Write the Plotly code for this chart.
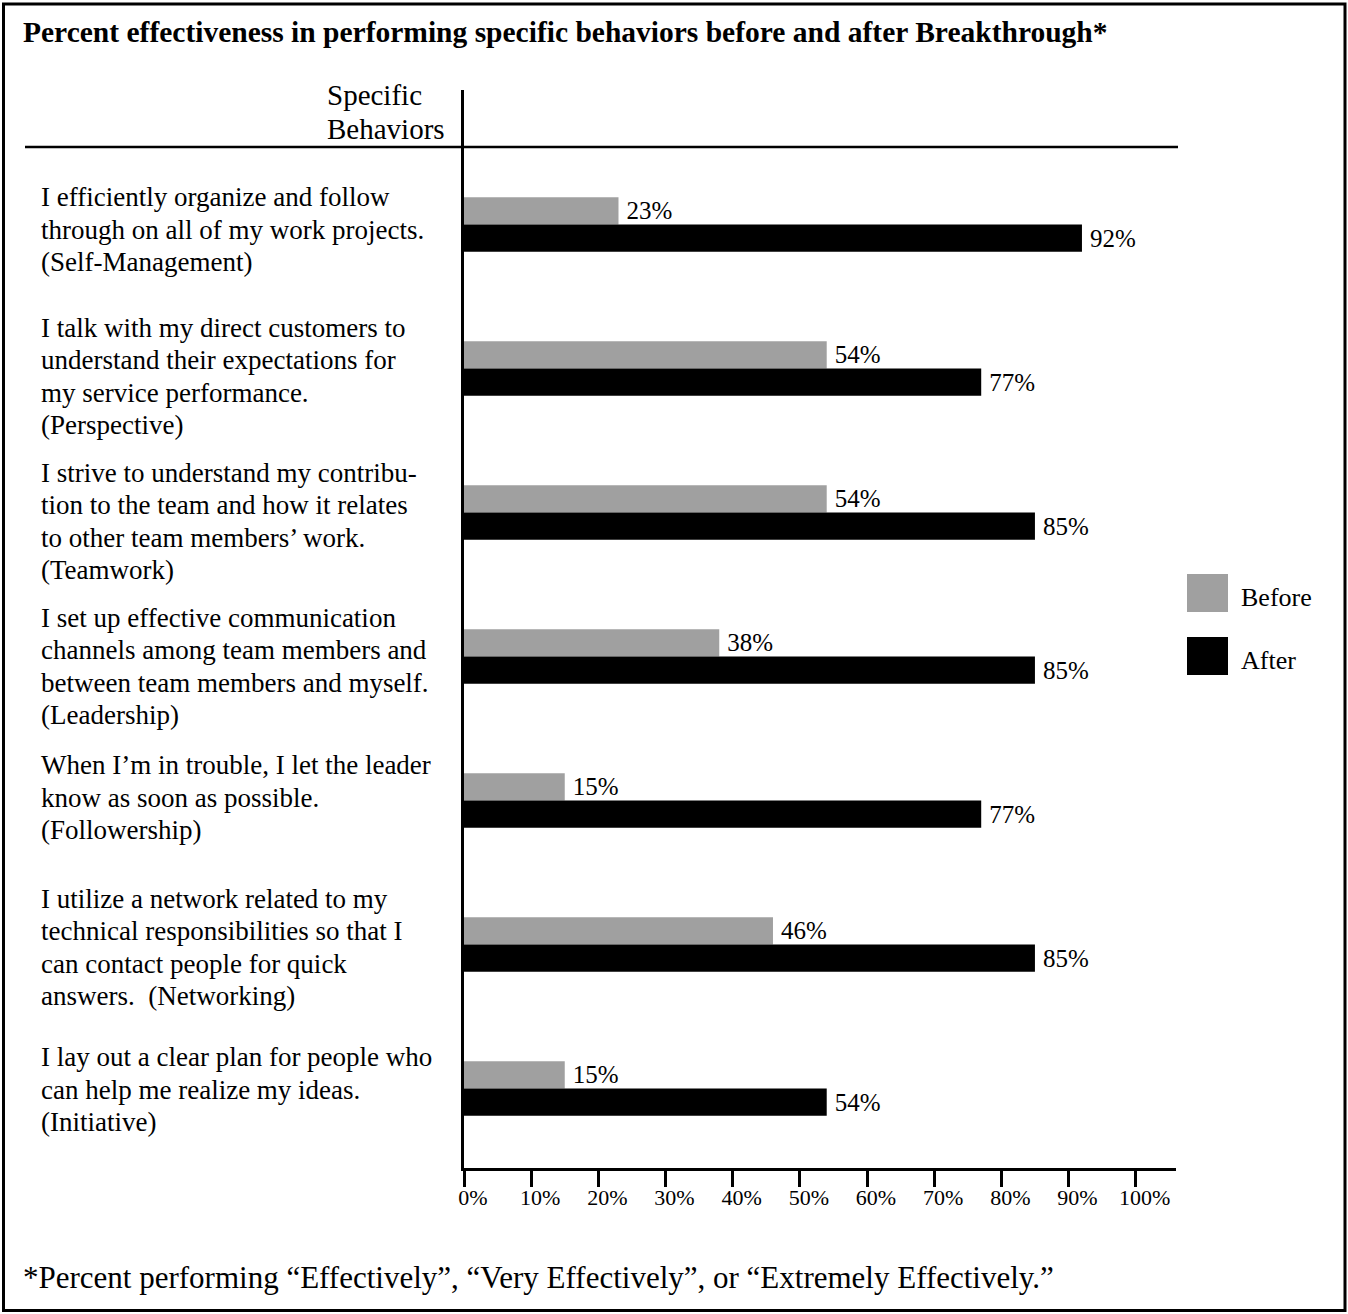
import plotly.graph_objects as go

# ---------------- data ----------------
categories = ["Self-Management", "Perspective", "Teamwork", "Leadership",
              "Followership", "Networking", "Initiative"]
label_lines = [
    ["I efficiently organize and follow", "through on all of my work projects.", "(Self-Management)"],
    ["I talk with my direct customers to", "understand their expectations for",
     "my service performance.", "(Perspective)"],
    ["I strive to understand my contribu-", "tion to the team and how it relates",
     "to other team members\u2019 work.", "(Teamwork)"],
    ["I set up effective communication", "channels among team members and",
     "between team members and myself.", "(Leadership)"],
    ["When I\u2019m in trouble, I let the leader", "know as soon as possible.", "(Followership)"],
    ["I utilize a network related to my", "technical responsibilities so that I",
     "can contact people for quick", "answers.\u00a0 (Networking)"],
    ["I lay out a clear plan for people who", "can help me realize my ideas.", "(Initiative)"],
]
before = [23, 54, 54, 38, 15, 46, 15]
after = [92, 77, 85, 85, 77, 85, 54]
tick_vals = [0, 10, 20, 30, 40, 50, 60, 70, 80, 90, 100]
tick_text = ["0%", "10%", "20%", "30%", "40%", "50%", "60%", "70%", "80%", "90%", "100%"]
series_names = ["Before", "After"]
title_text = "Percent effectiveness in performing specific behaviors before and after Breakthrough*"
footnote_text = ("*Percent performing \u201cEffectively\u201d, \u201cVery Effectively\u201d, "
                 "or \u201cExtremely Effectively.\u201d")
header_lines = ["Specific", "Behaviors"]

# ---------------- layout helpers ----------------
W, H = 1348, 1314
L, R, T, B = 464, 1176, 90, 1168
FONT = "Liberation Serif, Times New Roman, serif"
GRAY = "#a0a0a0"
UNIT = 144.0  # pixels per category step


def px(x):
    return (x - L) / (R - L)


def py(y):
    return (B - y) / (B - T)


idx = list(range(len(categories)))
y_top = -(224.5 - T) / UNIT
y_bot = (B - 224.5) / UNIT
bw = 0.19

fig = go.Figure()
fig.add_trace(go.Bar(
    y=idx, x=before, orientation="h", name=series_names[0],
    marker=dict(color=GRAY, line=dict(width=0)),
    width=bw, offset=-bw,
    texttemplate="\u2009%{x}%", textposition="outside", constraintext="none",
    cliponaxis=False, textfont=dict(family=FONT, size=25, color="black"),
    showlegend=False,
))
fig.add_trace(go.Bar(
    y=idx, x=after, orientation="h", name=series_names[1],
    marker=dict(color="black", line=dict(width=0)),
    width=bw, offset=0,
    texttemplate="\u2009%{x}%", textposition="outside", constraintext="none",
    cliponaxis=False, textfont=dict(family=FONT, size=25, color="black"),
    showlegend=False,
))

annotations = []
shapes = []

# title
annotations.append(dict(text="<b>" + title_text + "</b>", xref="paper", yref="paper",
                        x=px(21), y=py(32), xanchor="left", yanchor="middle",
                        showarrow=False, font=dict(family=FONT, size=29.5, color="black")))
# header
for line, yy in zip(header_lines, [95, 129]):
    annotations.append(dict(text=line, xref="paper", yref="paper",
                            x=px(325), y=py(yy), xanchor="left", yanchor="middle",
                            showarrow=False, font=dict(family=FONT, size=29, color="black")))
# category labels
label_shift = [5, 8, 9, 10, -3, 3, 1]
spacing = 32.5
for i, lines in enumerate(label_lines):
    n = len(lines)
    for j, line in enumerate(lines):
        off = ((j - (n - 1) / 2) * spacing + label_shift[i]) / UNIT
        annotations.append(dict(text=line, xref="paper", yref="y",
                                x=px(39), y=i + off, xanchor="left", yanchor="middle",
                                showarrow=False,
                                font=dict(family=FONT, size=27, color="black")))
# footnote
annotations.append(dict(text=footnote_text, xref="paper", yref="paper",
                        x=px(21), y=py(1278), xanchor="left", yanchor="middle",
                        showarrow=False, font=dict(family=FONT, size=31, color="black")))
# legend
legend_colors = [GRAY, "black"]
legend_y = [593, 656]
for name, col, yy in zip(series_names, legend_colors, legend_y):
    shapes.append(dict(type="rect", xref="paper", yref="paper",
                       x0=px(1187), x1=px(1228), y0=py(yy - 19), y1=py(yy + 19),
                       fillcolor=col, line=dict(width=0)))
    annotations.append(dict(text=name, xref="paper", yref="paper",
                            x=px(1239), y=py(yy + 4), xanchor="left", yanchor="middle",
                            showarrow=False, font=dict(family=FONT, size=26, color="black")))

# header rule
shapes.append(dict(type="line", xref="paper", yref="paper",
                   x0=px(25), x1=px(1178), y0=py(147), y1=py(147),
                   line=dict(color="black", width=2.5)))
# outer border
shapes.append(dict(type="rect", xref="paper", yref="paper",
                   x0=px(3.5), x1=px(1345), y0=py(4), y1=py(1310.5),
                   line=dict(color="black", width=3), fillcolor="rgba(0,0,0,0)"))

fig.update_layout(
    width=W, height=H,
    margin=dict(l=L, r=W - R, t=T, b=H - B, pad=0),
    paper_bgcolor="white", plot_bgcolor="white",
    barmode="overlay",
    font=dict(family=FONT, color="black"),
    annotations=annotations, shapes=shapes,
    xaxis=dict(range=[0, 106], tickvals=tick_vals, ticktext=tick_text,
               ticks="outside", ticklen=16, tickwidth=2.5, tickcolor="black",
               showline=True, linewidth=2.5, linecolor="black",
               showgrid=False, zeroline=False, ticklabelshift=9,
               ticklabelstandoff=-8,
               tickfont=dict(family=FONT, size=22, color="black")),
    yaxis=dict(range=[y_bot, y_top], showticklabels=False, ticks="",
               showline=True, linewidth=2.5, linecolor="black",
               showgrid=False, zeroline=False),
)

fig.write_html("out.html")
